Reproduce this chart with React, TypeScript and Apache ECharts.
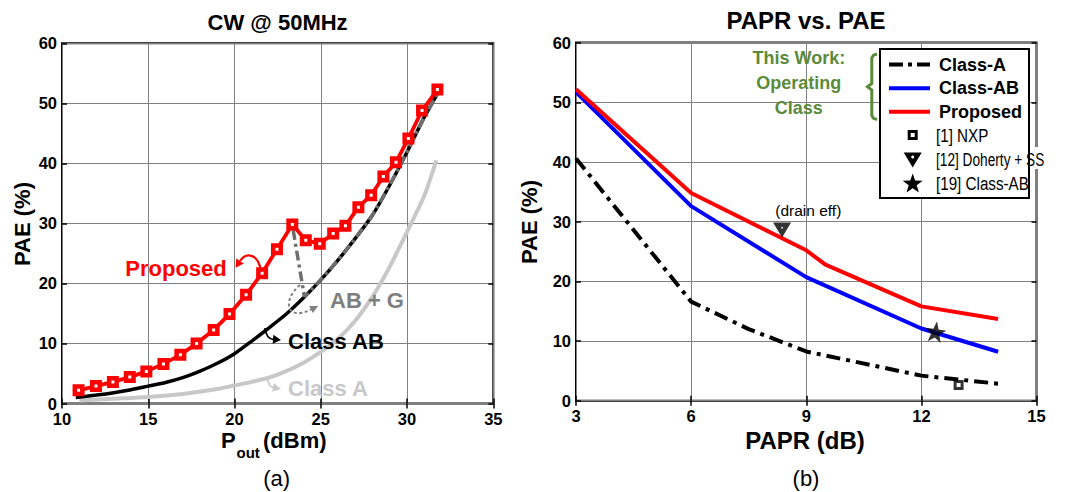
import React, { useEffect, useRef } from "react";
import * as echarts from "echarts";

// ---------- Data: (a) CW @ 50MHz ----------
const cwPropX = [10.96, 11.97, 12.95, 13.93, 14.89, 15.88, 16.86, 17.8, 18.79, 19.71, 20.67, 21.6, 22.46, 23.35, 24.13, 24.94, 25.72, 26.43, 27.18, 27.92, 28.63, 29.36, 30.08, 30.87, 31.76];
const cwPropY = [2.2, 2.9, 3.6, 4.4, 5.35, 6.6, 8.1, 10.0, 12.25, 14.9, 18.1, 21.7, 25.7, 29.8, 27.2, 26.6, 28.3, 29.6, 32.7, 34.7, 37.8, 40.2, 44.15, 48.8, 52.3];
const cwAbX = [10.8, 12, 13, 14, 15, 16, 17, 18, 19, 20, 21, 22, 23, 24, 25, 26, 27, 28, 29, 30, 31, 31.8];
const cwAbY = [1.0, 1.4, 1.8, 2.3, 2.9, 3.5, 4.3, 5.4, 6.7, 8.3, 10.4, 12.6, 14.9, 17.6, 20.6, 23.9, 27.5, 31.4, 36.4, 41.9, 47.7, 51.8];
const cwAbgX = [23.4, 24.05, 25, 26, 27, 28, 29, 30, 31, 31.8];
const cwAbgY = [28.9, 17.8, 20.6, 23.9, 27.5, 31.4, 36.4, 41.9, 47.7, 51.8];
const cwAX = [11, 13, 15, 17, 19, 20, 21, 22, 23, 24, 25, 26, 27, 28, 29, 30, 31, 31.7];
const cwAY = [0.5, 0.8, 1.1, 1.6, 2.4, 3.0, 3.6, 4.3, 5.4, 6.8, 8.6, 10.8, 13.8, 17.8, 22.8, 28.6, 34.6, 40.5];
const cwXTicks = { min: 10, max: 35, step: 5 };
const paeTicks = { min: 0, max: 60, step: 10 };

// ---------- Data: (b) PAPR vs. PAE ----------
const paprAX = [3, 6, 7.5, 9, 12, 14];
const paprAY = [40.6, 16.6, 12.0, 8.25, 4.2, 2.85];
const paprAbX = [3, 6, 9, 12, 14];
const paprAbY = [51.7, 32.6, 20.7, 12.1, 8.2];
const paprPropX = [3, 6, 9, 9.5, 12, 14];
const paprPropY = [52.2, 34.8, 25.2, 22.8, 15.8, 13.7];
const nxpPoint = [12.97, 2.65];
const dohertyPoint = [8.37, 28.6];
const class19Point = [12.37, 11.55];
const paprXTicks = { min: 3, max: 15, step: 3 };

const zip = (xs: number[], ys: number[]) => xs.map((x, i) => [x, ys[i]]);

const F = "'Liberation Sans', Arial, Helvetica, sans-serif";
const GREEN = "#5b8a3b";
const STAR =
  "path://M50,0L61.8,33.8L97.6,34.5L69,56.2L79.4,90.5L50,70L20.6,90.5L31,56.2L2.4,34.5L38.2,33.8Z";
const TRI_HOLE = "path://M0,0L18,0L9,15ZM9,4L8,5.3L9,6.6L10,5.3Z";

function txt(
  text: string,
  x: number,
  y: number,
  size: number,
  opts: { weight?: string; color?: string; align?: string; rotation?: number; scaleX?: number } = {}
) {
  const align = opts.align || "center";
  return {
    type: "text",
    x,
    y,
    z: 100,
    rotation: opts.rotation || 0,
    scaleX: opts.scaleX || 1,
    style: {
      text,
      fill: opts.color || "#000",
      fontSize: size,
      fontWeight: opts.weight || "bold",
      fontFamily: F,
      align,
      verticalAlign: "middle",
      textAlign: align,
      textVerticalAlign: "middle",
    },
  };
}

function arrow(
  p: number[],
  color: string,
  lw: number,
  headLen: number,
  headW: number,
  dash?: number[]
) {
  const [x1, y1, c1x, c1y, c2x, c2y, x2, y2] = p;
  let dx = x2 - c2x;
  let dy = y2 - c2y;
  const L = Math.hypot(dx, dy) || 1;
  dx /= L;
  dy /= L;
  const tip = [x2 + dx * headLen, y2 + dy * headLen];
  const px = -dy * (headW / 2);
  const py = dx * (headW / 2);
  return [
    {
      type: "bezierCurve",
      z: 100,
      shape: { x1, y1, cpx1: c1x, cpy1: c1y, cpx2: c2x, cpy2: c2y, x2, y2 },
      style: { stroke: color, lineWidth: lw, fill: "none", lineDash: dash || null },
    },
    {
      type: "polygon",
      z: 100,
      shape: { points: [tip, [x2 + px, y2 + py], [x2 - px, y2 - py]] },
      style: { fill: color },
    },
  ];
}

function starPts(cx: number, cy: number, R: number, r: number) {
  const pts: number[][] = [];
  for (let i = 0; i < 10; i++) {
    const a = -Math.PI / 2 + (i * Math.PI) / 5;
    const rad = i % 2 === 0 ? R : r;
    pts.push([cx + rad * Math.cos(a), cy + rad * Math.sin(a)]);
  }
  return pts;
}

function xAx(grid: number, t: { min: number; max: number; step: number }, main: boolean) {
  return {
    gridIndex: grid,
    type: "value",
    min: t.min,
    max: t.max,
    interval: t.step,
    position: main ? "bottom" : "top",
    axisLine: { show: false },
    axisTick: { show: true, inside: true, length: 5, lineStyle: { color: "#000", width: 1.5 } },
    axisLabel: {
      show: main,
      fontSize: 16.5,
      fontWeight: "bold",
      fontFamily: F,
      color: "#000",
      margin: 7,
    },
    splitLine: { show: main, lineStyle: { color: "#808080", width: 1 } },
  };
}
function yAx(grid: number, t: { min: number; max: number; step: number }, main: boolean) {
  return {
    gridIndex: grid,
    type: "value",
    min: t.min,
    max: t.max,
    interval: t.step,
    position: main ? "left" : "right",
    axisLine: { show: false },
    axisTick: { show: true, inside: true, length: 5, lineStyle: { color: "#000", width: 1.5 } },
    axisLabel: {
      show: main,
      fontSize: 16.5,
      fontWeight: "bold",
      fontFamily: F,
      color: "#000",
      margin: 5,
    },
    splitLine: { show: main, lineStyle: { color: "#808080", width: 1 } },
  };
}

export default function App() {
  const ref = useRef<HTMLDivElement>(null);
  useEffect(() => {
    if (!ref.current) return;
    const chart = echarts.init(ref.current, undefined, { renderer: "svg" });

    const graphics: any[] = [
      // titles
      txt("CW @ 50MHz", 277.6, 22, 22),
      txt("PAPR vs. PAE", 806, 20.5, 24),
      // axis names (a)
      txt("PAE (%)", 22, 224, 22, { rotation: Math.PI / 2 }),
      txt("P", 221, 440, 22, { align: "left" }),
      txt("out", 236.5, 452, 15, { align: "left" }),
      txt("(dBm)", 263, 440, 22, { align: "left" }),
      txt("(a)", 276.7, 478, 22, { weight: "normal" }),
      // axis names (b)
      txt("PAE (%)", 529.5, 222, 22, { rotation: Math.PI / 2 }),
      txt("PAPR (dB)", 805, 440, 24),
      txt("(b)", 806, 478, 22, { weight: "normal" }),
      // annotations (a)
      txt("Proposed", 176, 268, 22, { color: "#ff0000" }),
      txt("AB + G", 330, 300, 22, { color: "#7f7f7f", align: "left" }),
      txt("Class AB", 288, 341, 22, { align: "left" }),
      txt("Class A", 288, 388.5, 22, { color: "#c8c8c8", align: "left" }),
      ...arrow([261, 271, 258, 253, 246, 252, 240, 261], "#ff0000", 2.2, 8, 9),
      ...arrow([300, 285, 282, 300, 286, 322, 311, 309.5], "#808080", 2, 8, 8, [3, 2.5]),
      ...arrow([265, 328, 266, 336, 269, 339, 273, 339.3], "#000", 1.8, 8, 9),
      ...arrow([267, 376.5, 268, 384.5, 271, 387, 273, 387.4], "#c8c8c8", 1.8, 8, 9),
      // annotations (b)
      txt("(drain eff)", 808.3, 210.7, 15.5, { weight: "normal" }),
      txt("This Work:", 798.8, 58.3, 18, { color: GREEN }),
      txt("Operating", 798.8, 83.3, 18, { color: GREEN }),
      txt("Class", 798.8, 108.3, 18, { color: GREEN }),
      {
        type: "polyline",
        z: 100,
        shape: {
          points: [
            [877, 54], [873.5, 55.2], [871.8, 58], [871.8, 83.5], [867.5, 86.8],
            [871.8, 90], [871.8, 115.5], [873.5, 118.3], [877, 119.5],
          ],
        },
        style: { stroke: GREEN, lineWidth: 3, fill: "none" },
      },
      // legend box
      {
        type: "rect",
        z: 100,
        shape: { x: 880, y: 49, width: 149, height: 149 },
        style: { fill: "#fff", stroke: "#000", lineWidth: 2 },
      },
      {
        type: "rect",
        z: 100,
        shape: { x: 1030, y: 147, width: 40, height: 22 },
        style: { fill: "#fff" },
      },
      {
        type: "line",
        z: 101,
        shape: { x1: 889, y1: 64.5, x2: 930, y2: 64.5 },
        style: { stroke: "#000", lineWidth: 4, lineDash: [14, 5, 4, 5] },
      },
      {
        type: "line",
        z: 101,
        shape: { x1: 889, y1: 88.3, x2: 930, y2: 88.3 },
        style: { stroke: "#0000ff", lineWidth: 4 },
      },
      {
        type: "line",
        z: 101,
        shape: { x1: 889, y1: 111.7, x2: 930, y2: 111.7 },
        style: { stroke: "#ff0000", lineWidth: 4 },
      },
      {
        type: "rect",
        z: 101,
        shape: { x: 909.2, y: 131.5, width: 7, height: 7 },
        style: { fill: "#fff", stroke: "#000", lineWidth: 3 },
      },
      {
        type: "polygon",
        z: 101,
        shape: { points: [[903.7, 152.5], [921.7, 152.5], [912.7, 167.5]] },
        style: { fill: "#000" },
      },
      { type: "circle", z: 102, shape: { cx: 912.7, cy: 157, r: 1.5 }, style: { fill: "#fff" } },
      {
        type: "polygon",
        z: 101,
        shape: { points: starPts(912.7, 184, 10.5, 4.2) },
        style: { fill: "#000" },
      },
      { ...txt("Class-A", 939, 64.5, 18, { align: "left" }), z: 102 },
      { ...txt("Class-AB", 939, 88.3, 18, { align: "left" }), z: 102 },
      { ...txt("Proposed", 939, 111.7, 18, { align: "left" }), z: 102 },
      { ...txt("[1] NXP", 936, 135, 19, { align: "left", weight: "normal", scaleX: 0.8 }), z: 102 },
      { ...txt("[12] Doherty + SS", 936, 159.5, 19, { align: "left", weight: "normal", scaleX: 0.72 }), z: 102 },
      { ...txt("[19] Class-AB", 936, 183.3, 19, { align: "left", weight: "normal", scaleX: 0.8 }), z: 102 },
    ];

    const option: any = {
      animation: false,
      backgroundColor: "#fff",
      grid: [
        { left: 62, top: 43.3, width: 431.3, height: 360.2, show: true, borderColor: "#000", borderWidth: 2, backgroundColor: "transparent" },
        { left: 576, top: 42.6, width: 460.5, height: 358.1, show: true, borderColor: "#000", borderWidth: 2, backgroundColor: "transparent" },
      ],
      xAxis: [
        xAx(0, cwXTicks, true),
        xAx(0, cwXTicks, false),
        xAx(1, paprXTicks, true),
        xAx(1, paprXTicks, false),
      ],
      yAxis: [
        yAx(0, paeTicks, true),
        yAx(0, paeTicks, false),
        yAx(1, paeTicks, true),
        yAx(1, paeTicks, false),
      ],
      series: [
        {
          name: "Class A",
          type: "line",
          xAxisIndex: 0,
          yAxisIndex: 0,
          data: zip(cwAX, cwAY),
          showSymbol: false,
          smooth: 0.2,
          lineStyle: { color: "#c8c8c8", width: 4 },
          z: 2,
        },
        {
          name: "Class AB",
          type: "line",
          xAxisIndex: 0,
          yAxisIndex: 0,
          data: zip(cwAbX, cwAbY),
          showSymbol: false,
          smooth: 0.2,
          lineStyle: { color: "#000", width: 3.5 },
          z: 3,
        },
        {
          name: "AB + G",
          type: "line",
          xAxisIndex: 0,
          yAxisIndex: 0,
          data: zip(cwAbgX, cwAbgY),
          showSymbol: false,
          lineStyle: { color: "#6e6e6e", width: 3.5, type: [10, 4, 3, 4] },
          z: 4,
        },
        {
          name: "Proposed",
          type: "line",
          xAxisIndex: 0,
          yAxisIndex: 0,
          data: zip(cwPropX, cwPropY),
          symbol: "rect",
          symbolSize: 7.5,
          showSymbol: true,
          lineStyle: { color: "#ff0000", width: 3.8 },
          itemStyle: { color: "#fff", borderColor: "#ff0000", borderWidth: 4.5 },
          z: 5,
        },
        {
          name: "Class-A",
          type: "line",
          xAxisIndex: 2,
          yAxisIndex: 2,
          data: zip(paprAX, paprAY),
          showSymbol: false,
          lineStyle: { color: "#000", width: 4, type: [14, 6, 4, 6] },
          z: 3,
        },
        {
          name: "Class-AB",
          type: "line",
          xAxisIndex: 2,
          yAxisIndex: 2,
          data: zip(paprAbX, paprAbY),
          showSymbol: false,
          lineStyle: { color: "#0000ff", width: 4 },
          z: 3,
        },
        {
          name: "Proposed (PAPR)",
          type: "line",
          xAxisIndex: 2,
          yAxisIndex: 2,
          data: zip(paprPropX, paprPropY),
          showSymbol: false,
          lineStyle: { color: "#ff0000", width: 4 },
          z: 3,
        },
        {
          name: "[1] NXP",
          type: "scatter",
          xAxisIndex: 2,
          yAxisIndex: 2,
          data: [nxpPoint],
          symbol: "rect",
          symbolSize: 7,
          itemStyle: { color: "#fff", borderColor: "#000", borderWidth: 3 },
          z: 6,
        },
        {
          name: "[12] Doherty + SS",
          type: "scatter",
          xAxisIndex: 2,
          yAxisIndex: 2,
          data: [dohertyPoint],
          symbol: TRI_HOLE,
          symbolSize: [18, 15],
          itemStyle: { color: "#000" },
          z: 6,
        },
        {
          name: "[19] Class-AB",
          type: "scatter",
          xAxisIndex: 2,
          yAxisIndex: 2,
          data: [class19Point],
          symbol: STAR,
          symbolSize: [21, 21],
          symbolRotate: -8,
          itemStyle: { color: "#000" },
          z: 6,
        },
      ],
      graphic: graphics,
    };
    chart.setOption(option);
    return () => chart.dispose();
  }, []);
  return (
    <div
      ref={ref}
      style={{ position: "fixed", left: 0, top: 0, width: 1065, height: 492, background: "#fff" }}
    />
  );
}
